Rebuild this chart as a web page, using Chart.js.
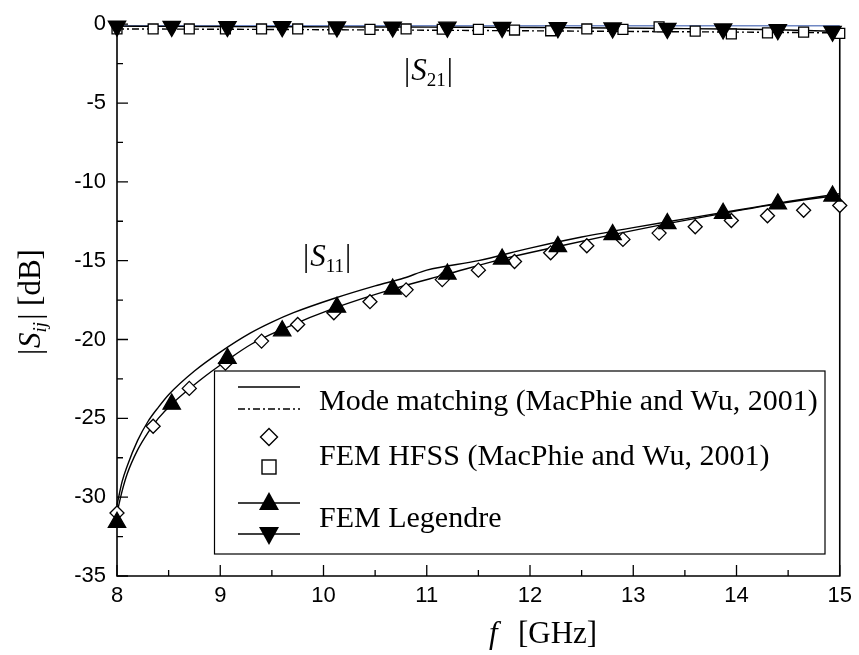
<!DOCTYPE html>
<html><head><meta charset="utf-8">
<script src="https://cdn.jsdelivr.net/npm/chart.js@4.4.0/dist/chart.umd.min.js"></script>
<style>html,body{margin:0;padding:0;background:#fff;overflow:hidden}#wrap{width:859px;height:655px;position:relative}</style>
</head><body><div id="wrap"><canvas id="c" width="859" height="655"></canvas></div>
<script>
// ---- data ----
const xTicks = [8, 9, 10, 11, 12, 13, 14, 15];
const yTicks = [0, -5, -10, -15, -20, -25, -30, -35];

// Mode matching (solid = S11, dash-dot = S21)
const freqMM = [8.0, 8.05, 8.1, 8.2, 8.3, 8.4, 8.5, 8.75, 9.0, 9.29, 9.5, 9.71, 10.1, 10.5, 10.78, 11.0, 11.5, 12.0, 12.5, 13.0, 13.5, 14.0, 14.5, 15.0];
const s11MM = [-30.5, -29.0, -28.0, -26.4, -25.2, -24.3, -23.5, -22.0, -20.8, -19.6, -18.9, -18.3, -17.4, -16.6, -16.1, -15.6, -15.0, -14.2, -13.5, -12.9, -12.35, -11.8, -11.25, -10.75];
const freqMM21 = [8, 9, 10, 11, 12, 13, 14, 15];
const s21MM = [-0.3, -0.32, -0.35, -0.38, -0.42, -0.46, -0.5, -0.55];

// FEM HFSS
const freqHFSS = [8.0, 8.35, 8.7, 9.05, 9.4, 9.75, 10.1, 10.45, 10.8, 11.15, 11.5, 11.85, 12.2, 12.55, 12.9, 13.25, 13.6, 13.95, 14.3, 14.65, 15.0];
const s11HFSS = [-31.0, -25.5, -23.1, -21.5, -20.1, -19.05, -18.3, -17.6, -16.85, -16.2, -15.6, -15.05, -14.5, -14.05, -13.65, -13.25, -12.85, -12.45, -12.15, -11.8, -11.5];
const s21HFSS = [-0.3, -0.3, -0.3, -0.3, -0.3, -0.3, -0.3, -0.33, -0.3, -0.32, -0.33, -0.37, -0.42, -0.3, -0.33, -0.17, -0.44, -0.62, -0.55, -0.5, -0.58];

// FEM Legendre
const freqLeg = [8.0, 8.53, 9.07, 9.6, 10.13, 10.67, 11.2, 11.73, 12.27, 12.8, 13.33, 13.87, 14.4, 14.93];
const s11Leg = [-31.6, -24.1, -21.2, -19.45, -17.95, -16.8, -15.85, -14.9, -14.1, -13.35, -12.65, -12.0, -11.4, -10.9];
const s21Leg = [-0.12, -0.14, -0.15, -0.16, -0.17, -0.18, -0.19, -0.2, -0.22, -0.24, -0.27, -0.3, -0.35, -0.45];
const freqLegLine = [8.0, 8.05, 8.1, 8.2, 8.3, 8.4, 8.53, 8.8, 9.07, 9.3, 9.6, 10.13, 10.67, 11.2, 11.73, 12.27, 12.8, 13.33, 13.87, 14.4, 14.93, 15.0];
const s11LegLine = [-31.0, -29.6, -28.5, -27.0, -25.9, -25.0, -24.1, -22.6, -21.3, -20.3, -19.35, -17.95, -16.8, -15.85, -14.9, -14.1, -13.35, -12.65, -12.0, -11.4, -10.9, -10.85];

const legendLabels = ['Mode matching (MacPhie and Wu, 2001)', 'FEM HFSS (MacPhie and Wu, 2001)', 'FEM Legendre'];

// ---- helpers ----
const pts = (xs, ys) => xs.map((x, i) => ({x: x, y: ys[i]}));
const SERIF = '"Liberation Serif", "Times New Roman", serif';
const SANS = '"Liberation Sans", Arial, sans-serif';

const lineDs = (data, dash, order) => ({
  data: data, showLine: true, borderColor: '#000', borderWidth: 1.4, borderDash: dash || [],
  pointRadius: 0, pointHoverRadius: 0, cubicInterpolationMode: 'monotone', fill: false, clip: false, order: order
});
const markDs = (data, style, r, bg, rot, order) => ({
  data: data, showLine: false, pointStyle: style, pointRadius: r, pointHoverRadius: r,
  pointBackgroundColor: bg, pointBorderColor: '#000', pointBorderWidth: 1.3, pointRotation: rot || 0,
  clip: false, order: order
});

const framePlugin = {
  id: 'frame',
  beforeDatasetsDraw(chart) {
    const ctx = chart.ctx, a = chart.chartArea;
    const xs = chart.scales.x, ys = chart.scales.y;
    ctx.save();
    ctx.strokeStyle = '#7088c4'; ctx.lineWidth = 1.5;
    ctx.beginPath(); ctx.moveTo(a.left, ys.getPixelForValue(0) + 1.5); ctx.lineTo(a.right, ys.getPixelForValue(0) + 1.5); ctx.stroke();
    ctx.strokeStyle = '#000'; ctx.lineWidth = 1.6;
    ctx.beginPath();
    ctx.moveTo(a.left, a.top + 1); ctx.lineTo(a.left, a.bottom); ctx.lineTo(a.right, a.bottom); ctx.lineTo(a.right, a.top + 3);
    ctx.stroke();
    ctx.lineWidth = 1.3;
    ctx.beginPath();
    for (let v = 8; v <= 15.001; v += 0.5) {
      const px = xs.getPixelForValue(v);
      const major = Math.abs(v - Math.round(v)) < 1e-6;
      ctx.moveTo(px, a.bottom); ctx.lineTo(px, a.bottom - (major ? 11 : 6));
    }
    for (let v = 0; v >= -35.001; v -= 2.5) {
      const py = ys.getPixelForValue(v);
      const major = Math.abs(v / 5 - Math.round(v / 5)) < 1e-6;
      ctx.moveTo(a.left, py); ctx.lineTo(a.left + (major ? 11 : 6), py);
    }
    ctx.stroke();
    ctx.restore();
  },
  afterDraw(chart) {
    const ctx = chart.ctx, a = chart.chartArea;
    ctx.save();
    ctx.fillStyle = '#000'; ctx.strokeStyle = '#000';

    function sLabel(x, y, sub, size) {
      ctx.textBaseline = 'alphabetic'; ctx.textAlign = 'left';
      ctx.font = size + 'px ' + SERIF;
      ctx.fillText('|', x, y); x += ctx.measureText('|').width + 1;
      ctx.font = 'italic ' + size + 'px ' + SERIF;
      ctx.fillText('S', x, y); x += ctx.measureText('S').width;
      ctx.font = Math.round(size * 0.6) + 'px ' + SERIF;
      ctx.fillText(sub, x, y + size * 0.18); x += ctx.measureText(sub).width + 1;
      ctx.font = size + 'px ' + SERIF;
      ctx.fillText('|', x, y);
    }
    sLabel(404, 80, '21', 31);
    sLabel(303, 266, '11', 31);

    // Y title rotated
    const size = 31;
    ctx.save();
    ctx.translate(30, (a.top + a.bottom) / 2 + 2);
    ctx.rotate(-Math.PI / 2);
    ctx.font = size + 'px ' + SERIF; const w1 = ctx.measureText('|').width + 1;
    ctx.font = 'italic ' + size + 'px ' + SERIF; const w2 = ctx.measureText('S').width;
    ctx.font = 'italic ' + Math.round(size * 0.62) + 'px ' + SERIF; const w3 = ctx.measureText('ij').width + 2;
    ctx.font = size + 'px ' + SERIF; const w4 = ctx.measureText('| [dB]').width;
    const tot = w1 + w2 + w3 + w4;
    let x0 = -tot / 2; const yb = 10;
    ctx.textBaseline = 'alphabetic'; ctx.textAlign = 'left';
    ctx.font = size + 'px ' + SERIF; ctx.fillText('|', x0, yb); x0 += w1;
    ctx.font = 'italic ' + size + 'px ' + SERIF; ctx.fillText('S', x0, yb); x0 += w2;
    ctx.font = 'italic ' + Math.round(size * 0.62) + 'px ' + SERIF; ctx.fillText('ij', x0, yb + 6); x0 += w3;
    ctx.font = size + 'px ' + SERIF; ctx.fillText('| [dB]', x0, yb);
    ctx.restore();

    // X title
    ctx.textBaseline = 'alphabetic'; ctx.textAlign = 'left';
    ctx.font = 'italic ' + size + 'px ' + SERIF; ctx.fillText('f', 489, 643);
    ctx.font = size + 'px ' + SERIF; ctx.fillText('[GHz]', 518, 643);

    // Legend box
    const L = 214.5, T = 371, R = 825, B = 554;
    ctx.fillStyle = '#fff'; ctx.fillRect(L, T, R - L, B - T);
    ctx.lineWidth = 1.2; ctx.strokeStyle = '#000';
    ctx.strokeRect(L, T, R - L, B - T);
    ctx.fillStyle = '#000';
    const sx1 = 238, sx2 = 300, mx = 269;
    ctx.lineWidth = 1.4;
    ctx.beginPath(); ctx.moveTo(sx1, 387); ctx.lineTo(sx2, 387); ctx.stroke();
    ctx.setLineDash([7, 3, 2, 3]);
    ctx.beginPath(); ctx.moveTo(sx1, 409); ctx.lineTo(sx2, 409); ctx.stroke();
    ctx.setLineDash([]);
    ctx.beginPath(); ctx.moveTo(mx, 437 - 8.5); ctx.lineTo(mx + 8.5, 437); ctx.lineTo(mx, 437 + 8.5); ctx.lineTo(mx - 8.5, 437); ctx.closePath(); ctx.stroke();
    ctx.strokeRect(mx - 7, 467 - 7, 14, 14);
    ctx.beginPath(); ctx.moveTo(sx1, 503); ctx.lineTo(sx2, 503); ctx.stroke();
    ctx.beginPath(); ctx.moveTo(mx, 503 - 11); ctx.lineTo(mx + 10, 503 + 7); ctx.lineTo(mx - 10, 503 + 7); ctx.closePath(); ctx.fill();
    ctx.beginPath(); ctx.moveTo(sx1, 534); ctx.lineTo(sx2, 534); ctx.stroke();
    ctx.beginPath(); ctx.moveTo(mx, 534 + 11); ctx.lineTo(mx + 10, 534 - 7); ctx.lineTo(mx - 10, 534 - 7); ctx.closePath(); ctx.fill();
    ctx.font = '30px ' + SERIF; ctx.textAlign = 'left'; ctx.textBaseline = 'alphabetic';
    ctx.fillText(legendLabels[0], 319, 410);
    ctx.fillText(legendLabels[1], 319, 465);
    ctx.fillText(legendLabels[2], 319, 527);
    ctx.restore();
  }
};

new Chart(document.getElementById('c'), {
  type: 'scatter',
  data: {
    datasets: [
      markDs(pts(freqLeg, s11Leg), 'triangle', 10, '#000', 0, 1),
      markDs(pts(freqLeg, s21Leg), 'triangle', 10, '#000', 180, 1),
      markDs(pts(freqHFSS, s11HFSS), 'rectRot', 7, '#fff', 0, 2),
      markDs(pts(freqHFSS, s21HFSS), 'rect', 7, '#fff', 0, 2),
      lineDs(pts(freqMM, s11MM), [], 5),
      lineDs(pts(freqMM21, s21MM), [7, 3, 2, 3], 5),
      lineDs(pts(freqLegLine, s11LegLine), [], 4),
      lineDs(pts(freqLeg, s21Leg), [], 4)
    ]
  },
  options: {
    responsive: false, animation: false, devicePixelRatio: 1,
    layout: {padding: {top: 18, right: 19, bottom: 0, left: 0}},
    plugins: {legend: {display: false}, tooltip: {enabled: false}},
    events: [],
    scales: {
      x: {
        type: 'linear', min: 8, max: 15,
        afterFit(s) { s.height = 79; },
        afterBuildTicks(s) { s.ticks = xTicks.map(v => ({value: v})); },
        grid: {display: false, drawTicks: false}, border: {display: false},
        ticks: {color: '#000', font: {family: SANS, size: 22}, padding: 7, maxRotation: 0, autoSkip: false}
      },
      y: {
        type: 'linear', min: -35, max: 0,
        afterFit(s) { s.width = 117; },
        afterBuildTicks(s) { s.ticks = yTicks.map(v => ({value: v})); },
        grid: {display: false, drawTicks: false}, border: {display: false},
        ticks: {color: '#000', font: {family: SANS, size: 22}, padding: 11, autoSkip: false}
      }
    }
  },
  plugins: [framePlugin]
});
</script>
</body></html>
